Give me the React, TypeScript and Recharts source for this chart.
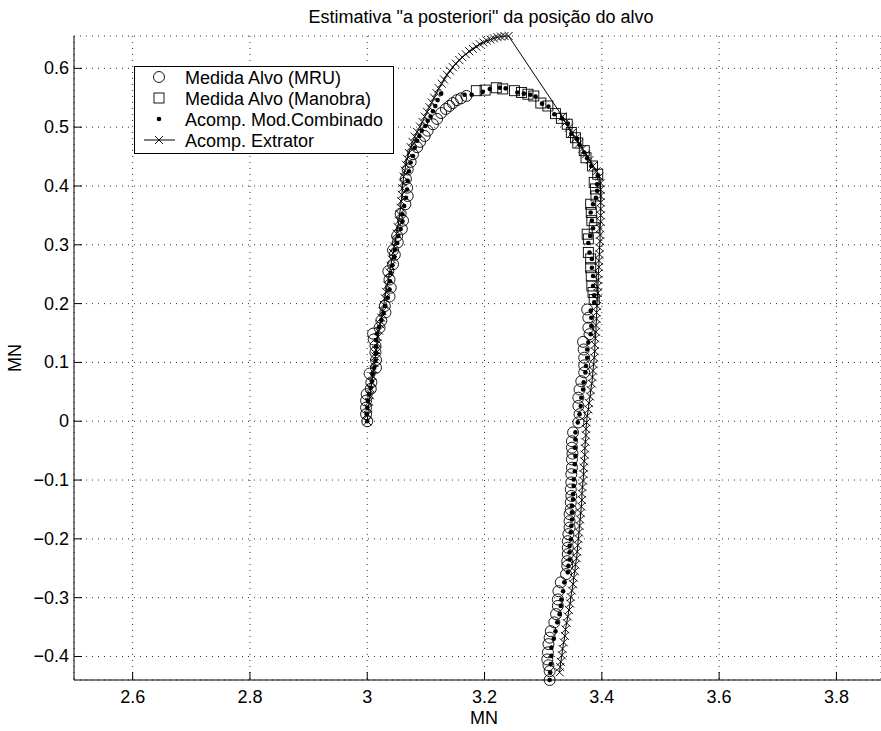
import React from "react";
import { ScatterChart, Scatter, XAxis, YAxis, CartesianGrid, Legend } from "recharts";

const FONT = '"Liberation Sans", Arial, Helvetica, sans-serif';

const xTicks = [2.6, 2.8, 3, 3.2, 3.4, 3.6, 3.8];
const yTicks = [-0.4, -0.3, -0.2, -0.1, 0, 0.1, 0.2, 0.3, 0.4, 0.5, 0.6];

// medida alvo (MRU) - trecho inicial e trecho final
const mruInicio: [number, number][] = [
  [3.0, 0.0], [2.998, 0.012], [2.998, 0.023], [2.998, 0.035], [2.999, 0.046], [3.006, 0.055],
  [3.007, 0.066], [3.004, 0.081], [3.015, 0.091], [3.015, 0.104], [3.014, 0.117], [3.014, 0.128],
  [3.011, 0.139], [3.01, 0.149], [3.021, 0.159], [3.024, 0.171], [3.031, 0.185], [3.03, 0.196],
  [3.038, 0.212], [3.04, 0.227], [3.038, 0.241], [3.036, 0.255], [3.044, 0.267], [3.047, 0.283],
  [3.044, 0.291], [3.052, 0.304], [3.051, 0.315], [3.059, 0.327], [3.061, 0.341], [3.057, 0.353],
  [3.065, 0.369], [3.069, 0.383], [3.068, 0.397], [3.066, 0.412], [3.069, 0.428], [3.074, 0.441],
  [3.078, 0.454], [3.085, 0.466], [3.09, 0.475], [3.098, 0.485], [3.103, 0.494], [3.112, 0.505],
  [3.119, 0.514], [3.126, 0.524], [3.134, 0.531], [3.14, 0.536], [3.146, 0.541], [3.153, 0.546],
  [3.16, 0.549], [3.169, 0.553],
];
const mruFim: [number, number][] = [
  [3.375, 0.19], [3.377, 0.176], [3.377, 0.159], [3.379, 0.148], [3.368, 0.135], [3.369, 0.122],
  [3.37, 0.108], [3.37, 0.095], [3.37, 0.083], [3.365, 0.068], [3.362, 0.054], [3.36, 0.04],
  [3.36, 0.026], [3.362, 0.012], [3.36, -0.002], [3.351, -0.019], [3.349, -0.034], [3.349, -0.045],
  [3.35, -0.055], [3.349, -0.065], [3.349, -0.079], [3.348, -0.09], [3.348, -0.104], [3.347, -0.116],
  [3.348, -0.127], [3.347, -0.138], [3.347, -0.15], [3.345, -0.158], [3.345, -0.17], [3.345, -0.181],
  [3.343, -0.192], [3.342, -0.204], [3.342, -0.215], [3.342, -0.226], [3.341, -0.238], [3.341, -0.246],
  [3.339, -0.26], [3.33, -0.274], [3.326, -0.289], [3.325, -0.303], [3.325, -0.314], [3.322, -0.328],
  [3.319, -0.342], [3.313, -0.357], [3.311, -0.368], [3.309, -0.379], [3.308, -0.393], [3.307, -0.405],
  [3.309, -0.415], [3.311, -0.425], [3.311, -0.44],
];

// medida alvo (manobra)
const manobra: [number, number][] = [
  [3.186, 0.562], [3.201, 0.563], [3.22, 0.567], [3.231, 0.565], [3.251, 0.562], [3.263, 0.559],
  [3.274, 0.556], [3.284, 0.553], [3.296, 0.541], [3.308, 0.536], [3.321, 0.523], [3.331, 0.515],
  [3.341, 0.505], [3.348, 0.491], [3.355, 0.482], [3.359, 0.473], [3.37, 0.46], [3.373, 0.448],
  [3.384, 0.434], [3.393, 0.42], [3.387, 0.406], [3.389, 0.395], [3.39, 0.383], [3.381, 0.369],
  [3.382, 0.355], [3.383, 0.341], [3.387, 0.329], [3.375, 0.318], [3.377, 0.31], [3.377, 0.287],
  [3.381, 0.276], [3.381, 0.261], [3.382, 0.247], [3.383, 0.23], [3.385, 0.219], [3.387, 0.207],
];

// acompanhamento modelo combinado
const combinado: [number, number][] = [
  [3.0, 0.0], [2.999, 0.012], [3.0, 0.023], [3.001, 0.035], [3.003, 0.046], [3.006, 0.057],
  [3.008, 0.068], [3.009, 0.08], [3.012, 0.091], [3.014, 0.103], [3.015, 0.115], [3.015, 0.127],
  [3.015, 0.138], [3.017, 0.149], [3.02, 0.16], [3.024, 0.172], [3.028, 0.184], [3.031, 0.196],
  [3.035, 0.21], [3.038, 0.224], [3.039, 0.238], [3.04, 0.252], [3.043, 0.265], [3.046, 0.279],
  [3.047, 0.291], [3.051, 0.303], [3.053, 0.315], [3.057, 0.327], [3.06, 0.34], [3.06, 0.352],
  [3.063, 0.366], [3.066, 0.38], [3.068, 0.394], [3.069, 0.409], [3.071, 0.425], [3.074, 0.44],
  [3.078, 0.451], [3.081, 0.465], [3.085, 0.477], [3.089, 0.485], [3.093, 0.494], [3.099, 0.502],
  [3.103, 0.511], [3.108, 0.518], [3.112, 0.527], [3.116, 0.536], [3.12, 0.546], [3.126, 0.557],
  [3.166, 0.555], [3.178, 0.555], [3.197, 0.56], [3.209, 0.565], [3.226, 0.567], [3.236, 0.566],
  [3.256, 0.559], [3.267, 0.557], [3.278, 0.555], [3.287, 0.552], [3.298, 0.54], [3.309, 0.535],
  [3.319, 0.522], [3.332, 0.515], [3.342, 0.506], [3.348, 0.489], [3.358, 0.48], [3.362, 0.47],
  [3.37, 0.457], [3.375, 0.447], [3.382, 0.434], [3.393, 0.418], [3.392, 0.403], [3.392, 0.392],
  [3.39, 0.38], [3.385, 0.369], [3.381, 0.355], [3.383, 0.341], [3.385, 0.328], [3.38, 0.315],
  [3.377, 0.303], [3.379, 0.287], [3.383, 0.276], [3.383, 0.261], [3.385, 0.247], [3.385, 0.23],
  [3.387, 0.214], [3.387, 0.202], [3.381, 0.188], [3.382, 0.176], [3.382, 0.162], [3.381, 0.148],
  [3.377, 0.134], [3.375, 0.122], [3.375, 0.108], [3.373, 0.094], [3.372, 0.083], [3.369, 0.066],
  [3.368, 0.054], [3.365, 0.04], [3.364, 0.026], [3.362, 0.012], [3.359, -0.002], [3.355, -0.019],
  [3.355, -0.031], [3.354, -0.045], [3.355, -0.059], [3.354, -0.073], [3.354, -0.085], [3.352, -0.099],
  [3.352, -0.11], [3.351, -0.124], [3.351, -0.133], [3.349, -0.144], [3.349, -0.155], [3.349, -0.167],
  [3.348, -0.178], [3.347, -0.189], [3.347, -0.201], [3.345, -0.212], [3.345, -0.223], [3.345, -0.235],
  [3.343, -0.246], [3.342, -0.257], [3.336, -0.274], [3.334, -0.289], [3.331, -0.303], [3.33, -0.314],
  [3.328, -0.328], [3.324, -0.342], [3.321, -0.357], [3.318, -0.37], [3.314, -0.385], [3.314, -0.399],
  [3.313, -0.413], [3.312, -0.427], [3.311, -0.44],
];

// acompanhamento extrator
const extrator: [number, number][] = [
  [3.0, 0.0], [3.001, 0.011], [3.002, 0.022], [3.003, 0.033], [3.005, 0.044], [3.006, 0.055],
  [3.008, 0.066], [3.009, 0.077], [3.011, 0.088], [3.012, 0.099], [3.014, 0.11], [3.015, 0.121],
  [3.017, 0.132], [3.018, 0.143], [3.02, 0.154], [3.022, 0.165], [3.024, 0.176], [3.026, 0.187],
  [3.028, 0.198], [3.03, 0.209], [3.032, 0.22], [3.034, 0.231], [3.036, 0.242], [3.038, 0.253],
  [3.04, 0.264], [3.042, 0.275], [3.044, 0.286], [3.046, 0.297], [3.048, 0.308], [3.05, 0.319],
  [3.052, 0.33], [3.054, 0.341], [3.055, 0.352], [3.057, 0.363], [3.058, 0.374], [3.059, 0.385],
  [3.06, 0.396], [3.061, 0.406], [3.062, 0.416], [3.064, 0.426], [3.066, 0.436], [3.068, 0.446],
  [3.071, 0.456], [3.074, 0.466], [3.077, 0.475], [3.081, 0.484], [3.085, 0.492], [3.09, 0.501],
  [3.094, 0.509], [3.098, 0.518], [3.102, 0.526], [3.106, 0.534], [3.11, 0.542], [3.114, 0.55],
  [3.118, 0.558], [3.122, 0.566], [3.127, 0.574], [3.131, 0.581], [3.136, 0.589], [3.141, 0.596],
  [3.146, 0.602], [3.151, 0.608], [3.157, 0.614], [3.162, 0.619], [3.168, 0.624], [3.174, 0.629],
  [3.18, 0.633], [3.186, 0.637], [3.192, 0.641], [3.198, 0.644], [3.204, 0.647], [3.21, 0.649],
  [3.216, 0.651], [3.222, 0.653], [3.228, 0.654], [3.234, 0.655], [3.241, 0.655],
  [3.333, 0.518], [3.338, 0.508], [3.344, 0.499], [3.349, 0.49], [3.355, 0.481], [3.361, 0.472],
  [3.367, 0.463], [3.373, 0.454], [3.379, 0.444], [3.385, 0.434], [3.391, 0.425], [3.396, 0.416],
  [3.398, 0.405], [3.398, 0.394], [3.398, 0.383], [3.398, 0.372], [3.398, 0.361], [3.398, 0.35],
  [3.398, 0.339], [3.397, 0.328], [3.397, 0.317], [3.397, 0.306], [3.396, 0.295], [3.396, 0.284],
  [3.395, 0.273], [3.395, 0.262], [3.394, 0.251], [3.394, 0.24], [3.393, 0.229], [3.393, 0.218],
  [3.392, 0.207], [3.392, 0.196], [3.391, 0.185], [3.391, 0.174], [3.39, 0.163], [3.39, 0.152],
  [3.389, 0.141], [3.388, 0.13], [3.388, 0.119], [3.387, 0.108], [3.386, 0.097], [3.385, 0.086],
  [3.384, 0.075], [3.383, 0.064], [3.381, 0.053], [3.38, 0.042], [3.378, 0.031], [3.377, 0.02],
  [3.375, 0.009], [3.374, -0.002], [3.373, -0.013], [3.373, -0.024], [3.372, -0.035], [3.371, -0.046],
  [3.371, -0.057], [3.37, -0.068], [3.369, -0.079], [3.369, -0.09], [3.368, -0.101], [3.367, -0.112],
  [3.366, -0.123], [3.366, -0.134], [3.365, -0.145], [3.364, -0.156], [3.363, -0.167], [3.362, -0.178],
  [3.361, -0.189], [3.36, -0.2], [3.359, -0.211], [3.358, -0.222], [3.357, -0.233], [3.355, -0.244],
  [3.354, -0.255], [3.352, -0.266], [3.351, -0.277], [3.349, -0.288], [3.347, -0.299], [3.346, -0.31],
  [3.344, -0.321], [3.342, -0.332], [3.34, -0.343], [3.338, -0.354], [3.337, -0.365], [3.335, -0.376],
  [3.333, -0.387], [3.332, -0.398], [3.33, -0.409], [3.329, -0.418], [3.328, -0.427],
];

const toPts = (arr: [number, number][]) => arr.map(([x, y]) => ({ x, y }));

const fmt = (v: number) => {
  const s = Number.isInteger(v) ? String(v) : v.toFixed(1);
  return s.replace("-", "\u2212");
};

const XTick = (props: any) => {
  const { x, y, payload } = props;
  return (
    <g>
      <line x1={x} x2={x} y1={y} y2={y - 8} stroke="#000" />
      <text x={x} y={y + 23} textAnchor="middle" fontSize={18} fontFamily={FONT} fill="#000">
        {fmt(payload.value)}
      </text>
    </g>
  );
};

const YTick = (props: any) => {
  const { x, y, payload } = props;
  return (
    <g>
      <line x1={x} x2={x + 8} y1={y} y2={y} stroke="#000" />
      <text x={x - 5} y={y + 6} textAnchor="end" fontSize={18} fontFamily={FONT} fill="#000">
        {fmt(payload.value)}
      </text>
    </g>
  );
};

const circleShape = (p: any) => (
  <circle cx={p.cx} cy={p.cy} r={5.5} fill="none" stroke="#000" strokeWidth={0.9} />
);
const squareShape = (p: any) => (
  <rect x={p.cx - 5} y={p.cy - 5} width={10} height={10} fill="none" stroke="#000" strokeWidth={0.9} />
);
const dotShape = (p: any) => <circle cx={p.cx} cy={p.cy} r={2.3} fill="#000" />;
const xShape = (p: any) => (
  <path
    d={`M${p.cx - 4},${p.cy - 4}L${p.cx + 4},${p.cy + 4}M${p.cx - 4},${p.cy + 4}L${p.cx + 4},${p.cy - 4}`}
    stroke="#000"
    strokeWidth={0.9}
    fill="none"
  />
);

const legendItems = [
  "Medida Alvo (MRU)",
  "Medida Alvo (Manobra)",
  "Acomp. Mod.Combinado",
  "Acomp. Extrator",
];

function LegendBox() {
  const rows = [11, 32, 53, 74];
  const mx = 25;
  return (
    <svg width={260} height={88} style={{ display: "block" }}>
      <rect x={0.5} y={0.5} width={259} height={87} fill="#fff" stroke="#000" />
      <circle cx={mx} cy={rows[0]} r={5.5} fill="none" stroke="#000" strokeWidth={0.9} />
      <rect x={mx - 5} y={rows[1] - 5} width={10} height={10} fill="none" stroke="#000" strokeWidth={0.9} />
      <circle cx={mx} cy={rows[2]} r={2.3} fill="#000" />
      <line x1={10} x2={41} y1={rows[3]} y2={rows[3]} stroke="#000" />
      <path
        d={`M${mx - 4},${rows[3] - 4}L${mx + 4},${rows[3] + 4}M${mx - 4},${rows[3] + 4}L${mx + 4},${rows[3] - 4}`}
        stroke="#000"
        strokeWidth={0.9}
      />
      {legendItems.map((t, i) => (
        <text key={t} x={51} y={rows[i] + 6.5} fontSize={18} fontFamily={FONT} fill="#000">
          {t}
        </text>
      ))}
    </svg>
  );
}

export default function App() {
  return (
    <div style={{ position: "absolute", left: 0, top: 0, width: 881, height: 731, background: "#fff" }}>
      <ScatterChart
        width={881}
        height={731}
        margin={{ top: 36, right: 0, bottom: 0, left: 0 }}
        style={{ fontFamily: FONT }}
      >
        <CartesianGrid stroke="#333" strokeDasharray="1 5" />
        <XAxis
          type="number"
          dataKey="x"
          domain={[2.5, 3.876]}
          ticks={xTicks}
          height={51}
          tickSize={0}
          tickMargin={0}
          tickLine={false}
          axisLine={{ stroke: "#000" }}
          tick={<XTick />}
          interval={0}
        />
        <YAxis
          type="number"
          dataKey="y"
          domain={[-0.44, 0.655]}
          ticks={yTicks}
          width={74}
          tickSize={0}
          tickMargin={0}
          tickLine={false}
          axisLine={{ stroke: "#000" }}
          tick={<YTick />}
          interval={0}
        />
        <Legend
          layout="vertical"
          align="center"
          verticalAlign="middle"
          wrapperStyle={{ left: 134, top: 66, width: 260, height: 88 }}
          content={() => <LegendBox />}
        />
        <Scatter name="Medida Alvo (MRU)" data={toPts([...mruInicio, ...mruFim])} shape={circleShape} isAnimationActive={false} />
        <Scatter name="Medida Alvo (Manobra)" data={toPts(manobra)} shape={squareShape} isAnimationActive={false} />
        <Scatter name="Acomp. Mod.Combinado" data={toPts(combinado)} shape={dotShape} isAnimationActive={false} />
        <Scatter
          name="Acomp. Extrator"
          data={toPts(extrator)}
          shape={xShape}
          line={{ stroke: "#000", strokeWidth: 1 }}
          isAnimationActive={false}
        />
        <text x={481} y={23} textAnchor="middle" fontSize={18} fontFamily={FONT} fill="#000">
          Estimativa "a posteriori" da posição do alvo
        </text>
        <text x={484} y={724} textAnchor="middle" fontSize={18} fontFamily={FONT} fill="#000">
          MN
        </text>
        <text transform="translate(21,358) rotate(-90)" textAnchor="middle" fontSize={18} fontFamily={FONT} fill="#000">
          MN
        </text>
      </ScatterChart>
    </div>
  );
}
